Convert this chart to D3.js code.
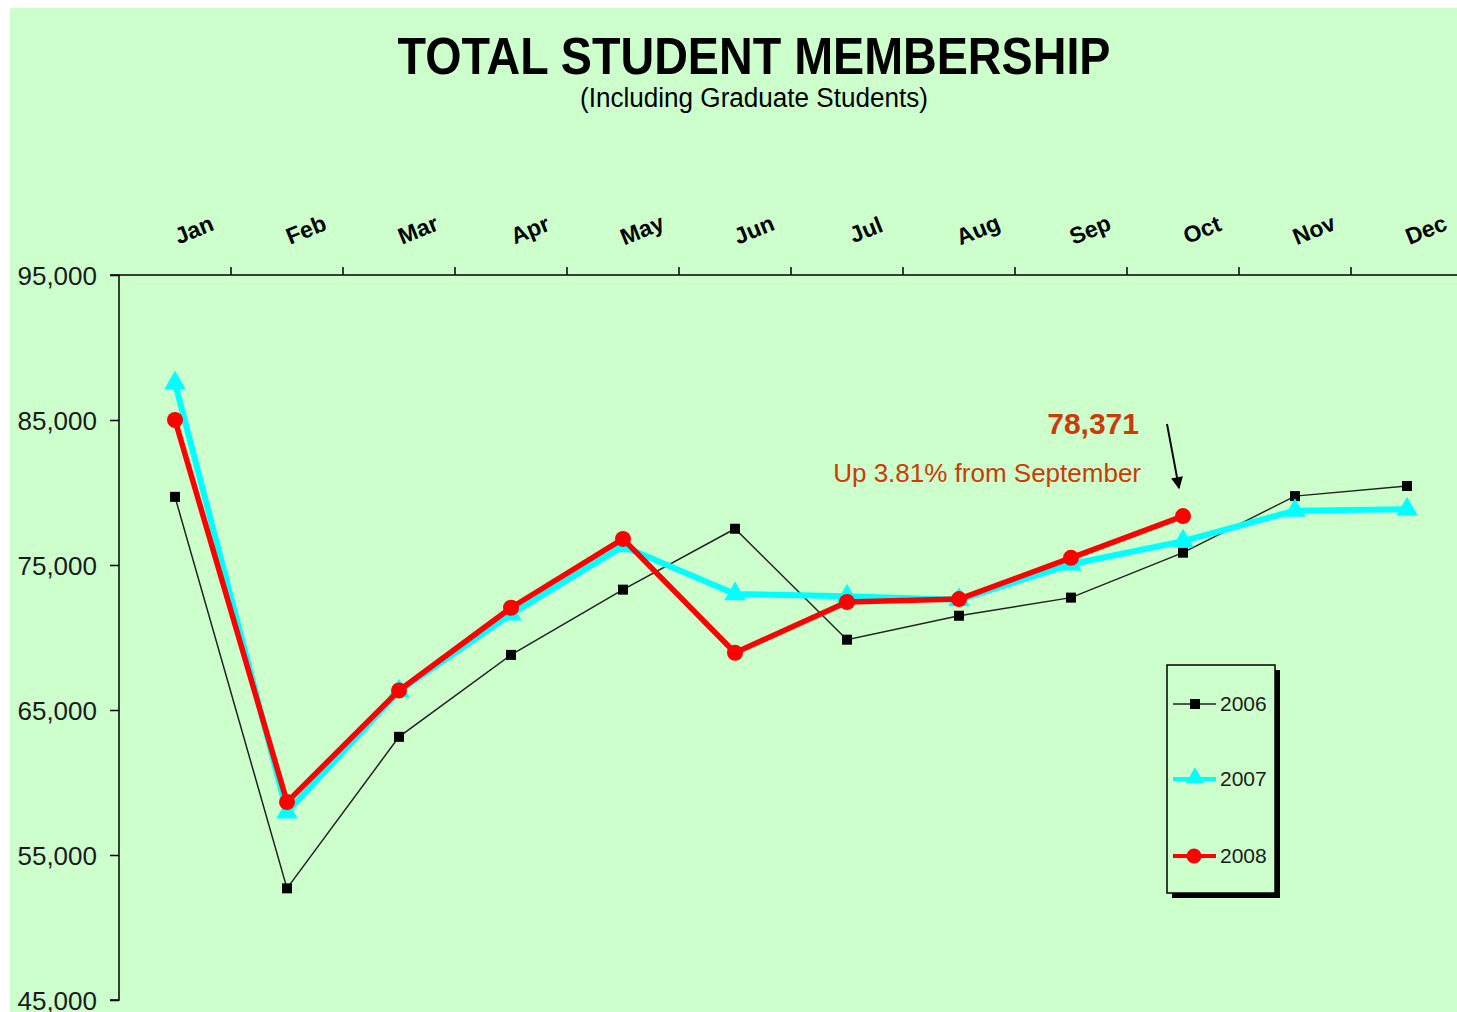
<!DOCTYPE html>
<html>
<head>
<meta charset="utf-8">
<script src="https://cdn.jsdelivr.net/npm/d3@7"></script>
<style>
  html, body { margin: 0; padding: 0; background: #ffffff; }
  svg { display: block; }
  text { font-family: "Liberation Sans", Arial, sans-serif; }
</style>
</head>
<body>
<svg id="chart" width="1457" height="1012"></svg>
<script>
const months = ["Jan","Feb","Mar","Apr","May","Jun","Jul","Aug","Sep","Oct","Nov","Dec"];
const yTicks = [45000, 55000, 65000, 75000, 85000, 95000];
const series2006 = [79700, 52700, 63150, 68800, 73300, 77500, 69850, 71500, 72750, 75850, 79750, 80450];
const series2007 = [87550, 57950, 66300, 71600, 76300, 73000, 72850, 72600, 75050, 76650, 78750, 78850];
const series2008 = [85000, 58650, 66350, 72050, 76800, 68950, 72450, 72650, 75495, 78371];
const seriesNames = ["2006", "2007", "2008"];

(function () {
const svg = d3.select("#chart");
svg.append("rect").attr("x", 10).attr("y", 8).attr("width", 1447).attr("height", 1004).attr("fill", "#ccffcc");

const plotLeft = 119, plotTop = 275, plotBottom = 1000, step = 112;
const x = d3.scaleBand().domain(months).range([plotLeft, plotLeft + step * 12]).padding(0);
const y = d3.scaleLinear().domain([45000, 95000]).range([plotBottom, plotTop]);
const cx = m => x(m) + x.bandwidth() / 2;

// Title
svg.append("text").attr("x", 754).attr("y", 74).attr("text-anchor", "middle")
  .attr("font-size", 52).attr("font-weight", "bold").attr("fill", "#000")
  .attr("textLength", 713).attr("lengthAdjust", "spacingAndGlyphs")
  .text("TOTAL STUDENT MEMBERSHIP");
svg.append("text").attr("x", 754).attr("y", 107).attr("text-anchor", "middle")
  .attr("font-size", 27).attr("fill", "#000")
  .attr("textLength", 348).attr("lengthAdjust", "spacingAndGlyphs")
  .text("(Including Graduate Students)");

// X axis at top
svg.append("line").attr("x1", plotLeft).attr("x2", 1457).attr("y1", plotTop).attr("y2", plotTop)
  .attr("stroke", "#000").attr("stroke-width", 1.5);
svg.append("g").selectAll("line").data(months.slice(1)).join("line")
  .attr("x1", d => x(d)).attr("x2", d => x(d)).attr("y1", plotTop).attr("y2", plotTop - 8)
  .attr("stroke", "#000").attr("stroke-width", 1.5);
svg.append("g").selectAll("text").data(months).join("text")
  .attr("transform", d => `translate(${cx(d) + 22},${237}) rotate(-22)`)
  .attr("text-anchor", "middle").attr("font-size", 23).attr("font-weight", "bold").attr("fill", "#000")
  .text(d => d);

// Y axis
const yAxis = d3.axisLeft(y).tickValues(yTicks).tickSize(9).tickFormat(d3.format(","));
const gy = svg.append("g").attr("transform", `translate(${plotLeft},0)`).call(yAxis);
gy.select(".domain").attr("stroke", "#000").attr("stroke-width", 1.5).attr("d", `M-9,${plotTop}H0V${plotBottom}H-9`);
gy.selectAll(".tick line").attr("stroke", "#000").attr("stroke-width", 1.5);
gy.selectAll(".tick text").attr("x", -22).attr("dy", "0.35em").attr("font-size", 26)
  .attr("fill", "#1a1a1a").attr("font-family", "'Liberation Sans', Arial, sans-serif");

const line = d3.line().x((d, i) => cx(months[i])).y(d => y(d));

// 2006
svg.append("path").datum(series2006).attr("d", line).attr("fill", "none")
  .attr("stroke", "#222").attr("stroke-width", 1.5);
svg.append("g").selectAll("rect").data(series2006).join("rect")
  .attr("x", (d, i) => cx(months[i]) - 5).attr("y", d => y(d) - 5)
  .attr("width", 10).attr("height", 10).attr("fill", "#000");

// 2007
svg.append("path").datum(series2007).attr("d", line).attr("fill", "none")
  .attr("stroke", "#00ffff").attr("stroke-width", 6).attr("stroke-linejoin", "round");
const tri = d3.symbol().type(d3.symbolTriangle).size(200);
svg.append("g").selectAll("path").data(series2007).join("path")
  .attr("d", tri).attr("transform", (d, i) => `translate(${cx(months[i])},${y(d)})`)
  .attr("fill", "#00ffff");

// 2008
svg.append("path").datum(series2008).attr("d", line).attr("fill", "none")
  .attr("stroke", "#ff0000").attr("stroke-width", 5.5).attr("stroke-linejoin", "round");
svg.append("g").selectAll("circle").data(series2008).join("circle")
  .attr("cx", (d, i) => cx(months[i])).attr("cy", d => y(d)).attr("r", 8)
  .attr("fill", "#ff0000");

// Annotation
const last = series2008[series2008.length - 1];
svg.append("text").attr("x", 1139).attr("y", 434).attr("text-anchor", "end")
  .attr("font-size", 30).attr("font-weight", "bold").attr("fill", "#cc3a0a")
  .text(d3.format(",")(last));
svg.append("text").attr("x", 1141).attr("y", 482).attr("text-anchor", "end")
  .attr("font-size", 26).attr("fill", "#cc3a0a")
  .text("Up 3.81% from September");
const defs = svg.append("defs");
defs.append("marker").attr("id", "arrow").attr("viewBox", "0 0 10 10").attr("refX", 9).attr("refY", 5)
  .attr("markerWidth", 9).attr("markerHeight", 6).attr("markerUnits", "strokeWidth").attr("orient", "auto")
  .append("path").attr("d", "M0,0 L10,5 L0,10 Z").attr("fill", "#000");
const ox = cx("Oct");
svg.append("line").attr("x1", ox - 16).attr("y1", 424).attr("x2", ox - 4).attr("y2", 488)
  .attr("stroke", "#000").attr("stroke-width", 2).attr("marker-end", "url(#arrow)");

// Legend
const lg = svg.append("g");
lg.append("rect").attr("x", 1172).attr("y", 670).attr("width", 108).attr("height", 228).attr("fill", "#000");
lg.append("rect").attr("x", 1167).attr("y", 665).attr("width", 108).attr("height", 228)
  .attr("fill", "#ccffcc").attr("stroke", "#000").attr("stroke-width", 1.5);
const legY = [704, 779, 856];
const legColors = ["#222", "#00ffff", "#ff0000"];
const legWidths = [1.5, 4, 4];
seriesNames.forEach((n, i) => {
  lg.append("line").attr("x1", 1173).attr("x2", 1216).attr("y1", legY[i]).attr("y2", legY[i])
    .attr("stroke", legColors[i]).attr("stroke-width", legWidths[i]);
  if (i === 0) lg.append("rect").attr("x", 1190).attr("y", legY[i] - 5).attr("width", 10).attr("height", 10).attr("fill", "#000");
  if (i === 1) lg.append("path").attr("d", d3.symbol().type(d3.symbolTriangle).size(150)).attr("transform", `translate(1195,${legY[i] - 1})`).attr("fill", "#00ffff");
  if (i === 2) lg.append("circle").attr("cx", 1194).attr("cy", legY[i]).attr("r", 7.5).attr("fill", "#ff0000");
  lg.append("text").attr("x", 1220).attr("y", legY[i]).attr("dy", "0.35em").attr("font-size", 21)
    .attr("fill", "#1a1a1a").text(n);
});
})();
</script>
</body>
</html>
